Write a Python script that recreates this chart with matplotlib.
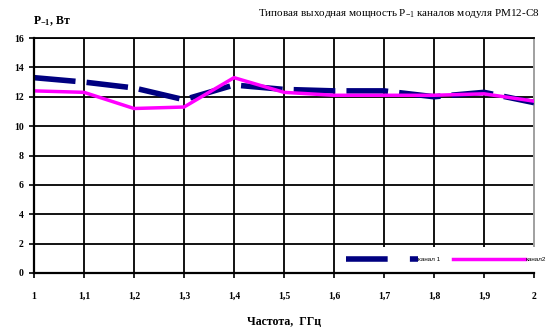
import matplotlib
matplotlib.use("Agg")
import matplotlib.pyplot as plt
from matplotlib.lines import Line2D

plt.rcParams['font.family'] = ['Liberation Serif', 'DejaVu Serif']
plt.rcParams['mathtext.fontset'] = 'custom'
plt.rcParams['mathtext.rm'] = 'Liberation Serif'
plt.rcParams['mathtext.it'] = 'Liberation Serif'
plt.rcParams['mathtext.bf'] = 'Liberation Serif:bold'

freq = [1.0, 1.1, 1.2, 1.3, 1.4, 1.5, 1.6, 1.7, 1.8, 1.9, 2.0]
ch1 = [13.3, 13.0, 12.6, 11.8, 12.8, 12.5, 12.4, 12.4, 12.0, 12.3, 11.6]
ch2 = [12.4, 12.3, 11.2, 11.3, 13.3, 12.3, 12.1, 12.1, 12.1, 12.2, 11.7]
xticks = [1.0, 1.1, 1.2, 1.3, 1.4, 1.5, 1.6, 1.7, 1.8, 1.9, 2.0]
xticklabels = ['1', '1,1', '1,2', '1,3', '1,4', '1,5', '1,6', '1,7', '1,8', '1,9', '2']
yticks = [0, 2, 4, 6, 8, 10, 12, 14, 16]
series_names = ['канал 1', 'канал2']

W, H = 552, 332
fig = plt.figure(figsize=(W / 100, H / 100), dpi=100)
ax = fig.add_axes([34 / W, (H - 273) / H, 500 / W, 235 / H])

navy = '#000080'
magenta = '#FF00FF'

l1, = ax.plot(freq, ch1, color=navy, lw=4.0, solid_capstyle='butt', zorder=3)
l1.set_dashes((7.5, 2.0))
l2, = ax.plot(freq, ch2, color=magenta, lw=2.5, zorder=4)

ax.set_xlim(1.0, 2.0)
ax.set_ylim(0, 16)
ax.set_xticks(xticks)
ax.set_xticklabels(xticklabels)
ax.set_yticks(yticks)

ax.grid(True, color='black', lw=1.3)
ax.set_axisbelow('line')
ax.get_xgridlines()[-1].set_visible(False)

for s in ['left', 'bottom']:
    ax.spines[s].set_linewidth(1.6)
    ax.spines[s].set_color('black')
ax.spines['top'].set_linewidth(1.3)
ax.spines['top'].set_color('black')
ax.spines['right'].set_linewidth(1.4)
ax.spines['right'].set_color('#A0A0A0')
ax.spines['bottom'].set_zorder(6)
ax.spines['left'].set_zorder(6)

ax.tick_params(axis='both', direction='out', length=3.5, width=1.2, color='black',
               labelsize=7)
ax.tick_params(axis='x', pad=10)
ax.tick_params(axis='y', pad=4)
for lab in ax.get_xticklabels() + ax.get_yticklabels():
    lab.set_fontweight('bold')

# legend
h1 = Line2D([], [], color=navy, lw=4.0, dashes=(7.5, 4.0), solid_capstyle='butt')
h2 = Line2D([], [], color=magenta, lw=2.5)
leg = ax.legend([h1, h2], series_names, loc='lower left',
                bbox_to_anchor=(0.602, 0.0), ncol=2, frameon=True,
                fancybox=False, framealpha=1, facecolor='white', edgecolor='none',
                handlelength=11.5, handletextpad=0.1, columnspacing=2.0,
                borderpad=1.6, borderaxespad=0.1,
                prop={'family': 'Liberation Sans', 'size': 4.5})
leg.set_zorder(5)

fig.text(258 / W, 1 - 16 / H, 'Типовая выходная мощность P$_{-1}$ каналов модуля PM12-C8',
         fontsize=8, ha='left', va='baseline')
fig.text(33 / W, 1 - 24 / H, r'P$_{\mathbf{-1}}$, Вт', fontsize=8.5,
         fontweight='bold', ha='left', va='baseline')
fig.text(284 / W, 1 - 325 / H, 'Частота,  ГГц', fontsize=8.5, fontweight='bold',
         ha='center', va='baseline')

fig.savefig('out.png', dpi=100)
